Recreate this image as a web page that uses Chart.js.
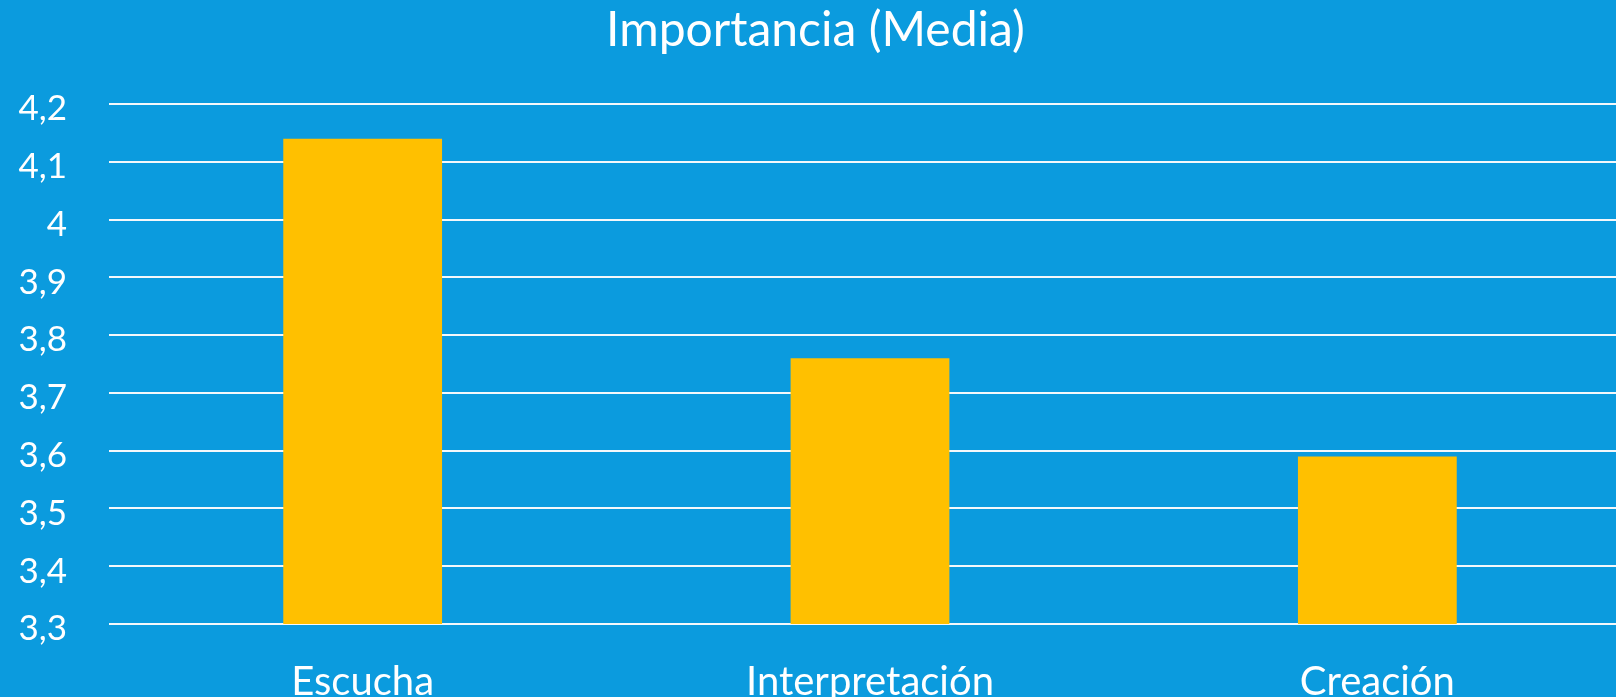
<!DOCTYPE html>
<html>
<head>
<meta charset="utf-8">
<script src="https://cdn.jsdelivr.net/npm/chart.js@4.4.0/dist/chart.umd.min.js"></script>
<style>
  html, body { margin: 0; padding: 0; overflow: hidden; background: #0b9bde; }
  #wrap { width: 1655px; height: 697px; }
</style>
</head>
<body>
<div id="wrap"><canvas id="chart" width="1655" height="697"></canvas></div>
<script>
// datos
var categorias = ["Escucha", "Interpretación", "Creación"];
var medias = [4.14, 3.76, 3.59];
var ejeMin = 3.3;
var ejeMax = 4.2;
var paso = 0.1;

var fuente = "Lato, 'Open Sans', sans-serif";

var ctx = document.getElementById("chart");
var grafico = new Chart(ctx, {
  type: 'bar',
  data: {
    labels: categorias,
    datasets: [{
      label: "Importancia (Media)",
      data: medias,
      backgroundColor: "#ffc000",
      borderWidth: 0,
      categoryPercentage: 1,
      barPercentage: 0.313
    }]
  },
  options: {
    responsive: false,
    animation: false,
    devicePixelRatio: 1,
    // el lienzo es más ancho que la ventana: la última categoría queda cortada como en el original
    layout: { padding: { left: 0, right: 24, top: 0, bottom: 0 } },
    plugins: {
      legend: { display: false },
      tooltip: { enabled: false },
      title: {
        display: true,
        text: "Importancia (Media)",
        color: "#ffffff",
        font: { family: fuente, size: 48, weight: 'normal', lineHeight: 1.2 },
        padding: { top: 2, bottom: 44.4 }
      }
    },
    scales: {
      x: {
        grid: { display: false },
        border: { display: false },
        ticks: {
          color: "#ffffff",
          font: { family: fuente, size: 40 },
          padding: 26,
          maxRotation: 0
        },
        afterFit: function (scale) { scale.height = 73; }
      },
      y: {
        min: ejeMin,
        max: ejeMax,
        border: { display: false },
        grid: { color: "#f4f8fb", lineWidth: 2, drawTicks: false },
        ticks: {
          stepSize: paso,
          color: "#ffffff",
          font: { family: fuente, size: 35 },
          padding: 42,
          labelOffset: 5,
          callback: function (v) {
            return String(Number(Number(v).toFixed(1))).replace('.', ',');
          }
        },
        afterFit: function (scale) { scale.width = 109; }
      }
    }
  }
});
</script>
</body>
</html>
